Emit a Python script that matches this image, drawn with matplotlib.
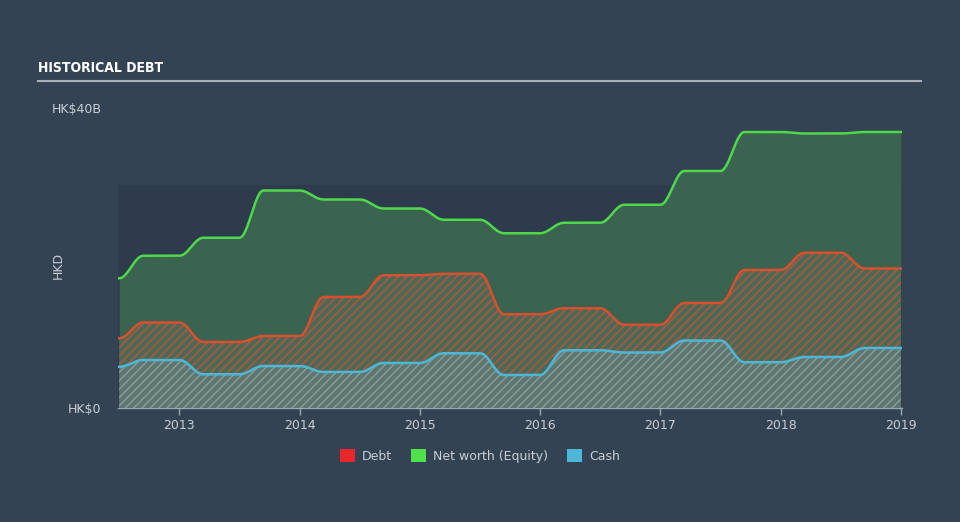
"""historical debt chart"""
import numpy as np
import matplotlib.pyplot as plt
from matplotlib.patches import Patch

# %%
# half-year reporting dates and values (HK$ billions)
dates = [2012.5, 2013.0, 2013.5, 2014.0, 2014.5, 2015.0, 2015.5,
         2016.0, 2016.5, 2017.0, 2017.5, 2018.0, 2018.5, 2019.0]
equity = [17.3, 20.3, 22.7, 29.0, 27.8, 26.6, 25.1,
          23.3, 24.7, 27.1, 31.6, 36.8, 36.6, 36.8]
debt = [9.3, 11.4, 8.8, 9.6, 14.8, 17.7, 17.9,
        12.5, 13.3, 11.1, 14.0, 18.4, 20.7, 18.6]
cash = [5.5, 6.4, 4.5, 5.6, 4.8, 6.0, 7.3,
        4.4, 7.7, 7.4, 9.0, 6.1, 6.8, 8.0]
year_ticks = [2013, 2014, 2015, 2016, 2017, 2018, 2019]

BG = '#344354'
TXT = '#c9ced6'


def smooth_steps(t, v, d=0.2, n=25):
    # hold each value, ease into the next one just after the report date
    xs, ys = [t[0]], [v[0]]
    s = np.linspace(0, 1, n)
    for i in range(len(t) - 1):
        xs.extend(t[i] + d * s)
        ys.extend(v[i] + (v[i + 1] - v[i]) * (1 - np.cos(np.pi * s)) / 2)
        xs.append(t[i + 1])
        ys.append(v[i + 1])
    return np.array(xs), np.array(ys)


# %%
plt.rcParams['hatch.linewidth'] = 1.1
fig = plt.figure(figsize=(9.6, 5.22), dpi=100, facecolor=BG)
ax = fig.add_axes([118 / 960, 114 / 522, 784 / 960, 300 / 522])
ax.set_facecolor(BG)

ax.axhspan(0, 29.7, color='#2e3b4c', zorder=0, lw=0)

xe, ye = smooth_steps(dates, equity)
xd, yd = smooth_steps(dates, debt)
xc, yc = smooth_steps(dates, cash)

ax.fill_between(xe, 0, ye, color='#3a6350', lw=0, zorder=1)
ax.fill_between(xd, 0, yd, facecolor='#4a6a58', edgecolor='#b4563a',
                hatch='////', lw=0, zorder=2)
ax.fill_between(xc, 0, yc, facecolor='#5d7670', edgecolor='#889a98',
                hatch='////', lw=0, zorder=3)

ax.plot(xe, ye, color='#4fd84a', lw=1.8, zorder=5)
ax.plot(xd, yd, color='#d9502e', lw=1.8, zorder=5)
ax.plot(xc, yc, color='#4cb8d8', lw=1.8, zorder=5)

ax.set_xlim(2012.49, 2019.01)
ax.set_ylim(0, 40)

for side in ['top', 'right', 'left']:
    ax.spines[side].set_visible(False)
ax.spines['bottom'].set_color('#9aa6b2')
ax.spines['bottom'].set_linewidth(1)

ax.set_xticks(year_ticks)
ax.set_xticklabels([str(y) for y in year_ticks])
ax.tick_params(axis='x', colors='#9aa6b2', labelcolor=TXT, length=5,
               width=1, labelsize=9, pad=3)
ax.set_yticks([0, 40])
ax.set_yticklabels(['HK$0', 'HK$40B'])
ax.tick_params(axis='y', length=0, labelcolor=TXT, labelsize=9, pad=12)

fig.text(58 / 960, 1 - 265 / 522, 'HKD', rotation=90, color=TXT,
         fontsize=9, ha='center', va='center')

# title and rule
fig.text(38 / 960, 1 - 68 / 522, 'HISTORICAL DEBT', color='white',
         fontsize=10, fontweight='bold', fontstretch='condensed',
         ha='left', va='center')
fig.add_artist(plt.Line2D([38 / 960, 921 / 960], [1 - 81 / 522, 1 - 81 / 522],
                          color='#aab0b8', lw=1.5))

handles = [Patch(facecolor='#e8262b', label='Debt'),
           Patch(facecolor='#4fe04a', label='Net worth (Equity)'),
           Patch(facecolor='#4cb8d8', label='Cash')]
leg = fig.legend(handles=handles, loc='center', bbox_to_anchor=(0.5, 1 - 456 / 522),
                 ncol=3, frameon=False, fontsize=9, handlelength=1.2,
                 handleheight=1.2, columnspacing=1.5, handletextpad=0.6)
for t in leg.get_texts():
    t.set_color(TXT)

plt.savefig('out.png', dpi=100, facecolor=BG)
